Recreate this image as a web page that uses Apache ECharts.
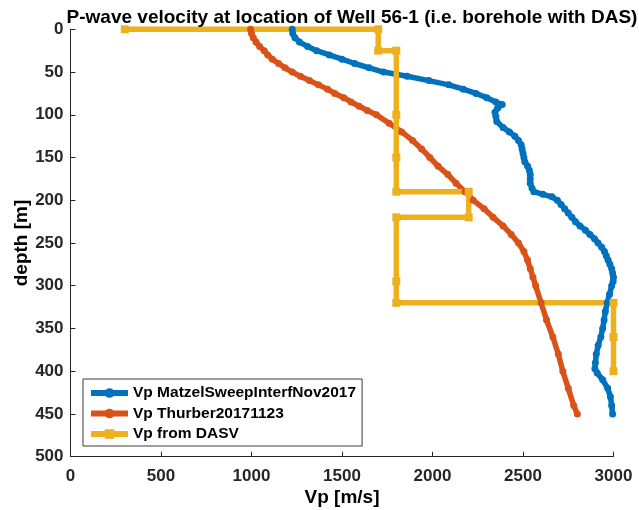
<!DOCTYPE html>
<html>
<head>
<meta charset="utf-8">
<script src="https://cdn.jsdelivr.net/npm/echarts@6/dist/echarts.min.js"></script>
<style>html,body{margin:0;padding:0;background:#fff}#c{width:639px;height:510px}</style>
</head>
<body>
<div id="c"></div>
<script>
const titleText = "P-wave velocity at location of Well 56-1 (i.e. borehole with DAS)";
const seriesNames = ["Vp MatzelSweepInterfNov2017", "Vp Thurber20171123", "Vp from DASV"];
const xTicks = [0, 500, 1000, 1500, 2000, 2500, 3000];
const yTicks = [0, 50, 100, 150, 200, 250, 300, 350, 400, 450, 500];

// [depth m, Vp m/s]
const matzelDepth = [0,5,10,15,20,25,30,35,40,45,50,55,60,65,70,75,80,85,88,92,97,102,108,115,120,125,130,135,140,145,150,155,160,165,170,175,180,186,190,193,196,200,205,210,215,220,225,230,235,240,245,250,255,260,265,270,275,280,285,290,295,300,310,320,330,340,350,360,370,380,390,397,402,410,420,430,440,450];
const matzelVp    = [1225,1228,1240,1265,1310,1360,1430,1500,1570,1650,1730,1860,1980,2090,2170,2240,2300,2350,2385,2360,2345,2350,2355,2390,2425,2455,2475,2490,2495,2500,2505,2510,2525,2535,2540,2540,2540,2550,2560,2610,2660,2690,2710,2730,2750,2770,2790,2815,2845,2870,2895,2915,2935,2950,2960,2970,2980,2990,2995,3000,2998,2990,2978,2965,2955,2948,2940,2930,2915,2905,2900,2897,2910,2940,2968,2983,2990,2995];

const thurberDepth = [0,5,10,15,20,25,30,35,40,45,50,55,60,65,70,75,80,85,90,95,100,110,120,130,140,150,160,170,180,190,200,210,220,230,240,250,260,270,280,290,300,320,340,360,380,400,420,440,450];
const thurberVp    = [995,1000,1010,1025,1045,1070,1090,1115,1150,1185,1225,1270,1320,1370,1420,1460,1510,1550,1595,1640,1690,1760,1830,1890,1940,1985,2030,2085,2130,2180,2225,2285,2335,2390,2435,2475,2505,2525,2540,2555,2570,2600,2630,2665,2695,2720,2750,2780,2800];

const dasvDepth = [0,0,25,25,100,150,190,190,220,220,295,320,320,360,400];
const dasvVp    = [300,1700,1700,1800,1800,1800,1800,2200,2200,1800,1800,1800,3000,3000,3000];

const colors = ["#0072BD", "#D95319", "#EDB120"];
const pair = (vp, d) => vp.map((v, i) => [v, d[i]]);

const chart = echarts.init(document.getElementById('c'), null, {renderer: 'canvas'});
const axisCol = '#262626';
const fontFam = '"Liberation Sans", Arial, Helvetica, sans-serif';

function mk(name, data, color, sym, symSize) {
  return {
    name: name, type: 'line', data: data, clip: false,
    symbol: sym, symbolSize: symSize, showSymbol: true,
    lineStyle: {color: color, width: 5.5},
    itemStyle: {color: color, borderWidth: 0},
    emphasis: {disabled: true},
    animation: false
  };
}

chart.setOption({
  animation: false,
  backgroundColor: '#fff',
  title: {
    text: titleText, left: 347, top: 3, textAlign: 'center',
    textStyle: {fontFamily: fontFam, fontSize: 19, fontWeight: 'bold', color: '#000'}
  },
  grid: {left: 70.5, right: 25.5, top: 29.3, bottom: 53.3, containLabel: false, outerBoundsMode: 'none'},
  legend: {
    orient: 'vertical', left: 83, top: 379,
    padding: [6, 6, 4, 5],
    backgroundColor: '#fff', borderColor: '#3a3a3a', borderWidth: 1,
    itemWidth: 37, itemHeight: 12, itemGap: 4.5,
    lineStyle: {width: 6},
    textStyle: {fontFamily: fontFam, fontSize: 15.5, fontWeight: 'bold', color: '#000', padding: [0, 0, 0, 0]},
    data: seriesNames
  },
  xAxis: {
    type: 'value', min: xTicks[0], max: xTicks[xTicks.length - 1], interval: 500,
    name: 'Vp [m/s]', nameLocation: 'middle', nameGap: 32, nameMoveOverlap: false,
    nameTextStyle: {fontFamily: fontFam, fontSize: 19, fontWeight: 'bold', color: '#000'},
    axisLine: {show: true, onZero: false, lineStyle: {color: axisCol, width: 1}},
    axisTick: {show: true, inside: true, length: 5, lineStyle: {color: axisCol}},
    axisLabel: {fontFamily: fontFam, fontSize: 17, fontWeight: 'bold', color: axisCol, margin: 11,
      formatter: v => String(v)},
    splitLine: {show: false}
  },
  yAxis: {
    type: 'value', inverse: true, min: yTicks[0], max: yTicks[yTicks.length - 1], interval: 50,
    name: 'depth [m]', nameLocation: 'middle', nameGap: 39, nameRotate: 90, nameMoveOverlap: false,
    nameTextStyle: {fontFamily: fontFam, fontSize: 19, fontWeight: 'bold', color: '#000'},
    axisLine: {show: true, onZero: false, lineStyle: {color: axisCol, width: 1}},
    axisTick: {show: true, inside: true, length: 5, lineStyle: {color: axisCol}},
    axisLabel: {fontFamily: fontFam, fontSize: 17, fontWeight: 'bold', color: axisCol, margin: 7,
      formatter: v => String(v)},
    splitLine: {show: false}
  },
  series: [
    mk(seriesNames[0], pair(matzelVp, matzelDepth), colors[0], 'circle', 7),
    mk(seriesNames[1], pair(thurberVp, thurberDepth), colors[1], 'circle', 7),
    mk(seriesNames[2], pair(dasvVp, dasvDepth), colors[2], 'rect', 8)
  ]
});
</script>
</body>
</html>
